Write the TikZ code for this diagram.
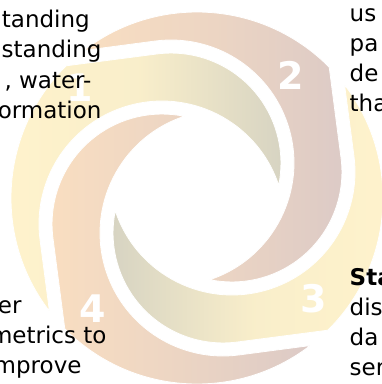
\documentclass[tikz,border=0pt]{standalone}
\usepackage{fontspec}
\setmainfont{DejaVu Sans}
\usepackage{tikz}
\definecolor{bladeyellow}{HTML}{FFF3CC}
\definecolor{bladeolive}{HTML}{D6D3C2}
\definecolor{bladepeach}{HTML}{F9DEC1}
\definecolor{blademauve}{HTML}{DCCAC6}

% one blade of the swirl, turned by #1 degrees
\newcommand{\swirlblade}[2]{%
  \path[#2,draw=white,line width=0.8pt] ({8.9+#1}:82.7pt)
    arc[start angle={18.4+#1}, end angle={187.5+#1}, radius=123pt]
    -- ({217.5+#1}:186pt)
    arc[start angle={217.5+#1}, end angle={134.7+#1}, radius=186pt]
    -- ({105.67+#1}:149.56pt)
    arc[start angle={97.5+#1}, end angle={-11.6+#1}, radius=110pt]
    -- cycle;}

\begin{document}
\begin{tikzpicture}[x=1pt,y=1pt,
 txt/.style={inner sep=0pt,font=\fontsize{23}{30}\selectfont,text=black},
 num/.style={inner sep=0pt,font=\fontsize{38}{38}\selectfont\bfseries,text=white}]
\useasboundingbox (-197,-186) rectangle (185,198);
\clip (-197,-186) rectangle (185,198);

\swirlblade{0}{left color=bladeyellow,right color=bladeolive,middle color=bladeyellow!85!bladeolive}
\swirlblade{-90}{left color=bladepeach,right color=blademauve,middle color=bladepeach!55!blademauve}
\swirlblade{-180}{left color=bladeolive,right color=bladeyellow,middle color=bladeyellow!85!bladeolive}
\swirlblade{-270}{left color=bladepeach,right color=blademauve,middle color=bladepeach!55!blademauve}

\node[num] (one) at (-117,110) {1};
\node[num] (two) at (94,123) {2};
\node[num] (three) at (117,-101) {3};
\node[num] (four) at (-104,-111) {4};

\node[txt,anchor=base east] (a1) at (-107,171) {tanding};
\node[txt,anchor=base east] (a2) at (-95.3,140.5) {standing};
\node[txt,anchor=base east] (a3) at (-105.3,110) {, water-};
\node[txt,anchor=base east] (a4) at (-95.3,79.5) {ormation};

\node[txt,anchor=base west] (b1) at (152.5,176.3) {us};
\node[txt,anchor=base west] (b2) at (152.5,146.3) {pa};
\node[txt,anchor=base west] (b3) at (152.5,116.3) {de};
\node[txt,anchor=base west] (b4) at (152.5,86.3) {tha};

\node[txt,anchor=base west,font=\fontsize{23}{30}\selectfont\bfseries] (c1) at (152.5,-87) {Sta};
\node[txt,anchor=base west] (c2) at (152.5,-117) {dis};
\node[txt,anchor=base west] (c3) at (152.5,-147) {da};
\node[txt,anchor=base west] (c4) at (152.5,-177) {ser};

\node[txt,anchor=base east] (d1) at (-175.3,-115.7) {er};
\node[txt,anchor=base east] (d2) at (-90.3,-145.7) {metrics to};
\node[txt,anchor=base east] (d3) at (-115.3,-175.7) {mprove};
\end{tikzpicture}
\end{document}
